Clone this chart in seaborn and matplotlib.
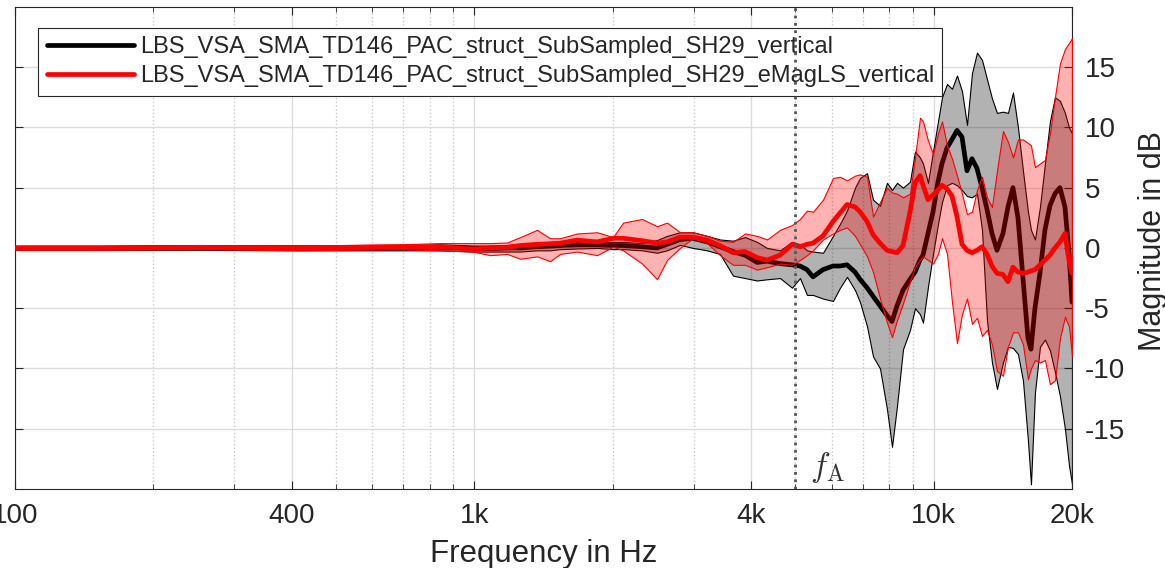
import matplotlib
matplotlib.use("Agg")
import matplotlib.pyplot as plt
import seaborn as sns
import pandas as pd
from matplotlib.ticker import FixedLocator, NullFormatter

# frequency grid (Hz)
freq = [100, 153, 253, 417, 689, 842, 993, 1082, 1178, 1258, 1369, 1461, 1536,
        1673, 1850, 2004, 2107, 2317, 2498, 2626, 2803, 2992, 3209, 3425, 3656,
        3883, 4124, 4336, 4628, 4914, 5115, 5297, 5459, 5740, 6035, 6251, 6474,
        6739, 6910, 7157, 7376, 7639, 7912, 8112, 8318, 8572, 8878, 9103, 9334,
        9475, 9716, 9963, 10216, 10423, 10687, 10958, 11236, 11521, 11813, 12113,
        12420, 12735, 13058, 13389, 13729, 14148, 14507, 14875, 15252, 15639,
        16036, 16279, 16608, 17029, 17461, 17904, 18358, 18824, 19302, 19693, 20000]

# SH29 vertical (black): mean and spread
ref_mean = [0, 0, 0.05, 0, 0, 0.05, -0.05, -0.05, 0, 0, 0.1, 0.15, 0.2,
            0.25, 0.25, 0.2, 0.2, 0.1, 0.0, 0.3, 0.7, 0.8, 0.5, 0.1, -0.3,
            -0.6, -1.2, -1.1, -1.3, -1.4, -1.5, -1.8, -2.4, -1.8, -1.5, -1.5, -1.4,
            -2.0, -2.6, -3.3, -4.0, -4.8, -5.6, -6.1, -4.8, -3.5, -2.6, -2.0, -1.0,
            -0.6, 1.2, 3.0, 5.5, 7.0, 8.3, 9.0, 9.75, 9.2, 6.4, 7.4,
            6.6, 5.0, 3.2, 1.2, -0.2, 1.2, 3.4, 5.0, 2.5, -2.5,
            -7.5, -8.4, -5.0, -2.1, 1.5, 3.5, 4.5, 5.0, 3.4, -0.4, -4.5]
ref_lo = [-0.15, -0.15, -0.15, -0.2, -0.2, -0.2, -0.3, -0.3, -0.3, -0.3, -0.2, -0.2, -0.1,
          -0.05, 0.0, -0.1, -0.1, -0.2, -0.4, -0.2, 0.25, 0.0, -0.2, -0.5, -2.3,
          -2.5, -2.7, -2.6, -2.5, -3.3, -2.5, -3.9, -3.9, -4.2, -4.4, -3.3, -2.4,
          -3.5, -4.5, -6.5, -9.0, -10.0, -13.4, -16.5, -13.1, -8.4, -6.8, -5.0, -5.5,
          -6.2, -3.2, -0.5, 2.0, 3.8, 5.2, 5.4, 5.2, 4.8, 4.3, 4.2,
          4.5, 1.5, -6.0, -9.5, -11.7, -9.5, -8.2, -8.3, -8.8, -11.0,
          -16.0, -19.6, -12.0, -8.2, -7.6, -8.5, -10.3, -12.3, -15.0, -18.0, -19.6]
ref_hi = [0.15, 0.15, 0.2, 0.2, 0.2, 0.3, 0.2, 0.2, 0.25, 0.3, 0.35, 0.4, 0.45,
          0.5, 0.5, 0.5, 0.5, 0.4, 0.65, 1.0, 1.3, 1.3, 1.0, 0.7, 0.6,
          0.9, 0.5, 0.0, -0.2, 0.5, 0.3, -0.2, -0.3, -0.4, 1.0, 2.0, 3.1,
          5.0, 5.8, 6.2, 4.0, 3.5, 5.4, 4.8, 5.4, 5.0, 5.5, 8.0, 7.5,
          7.0, 5.4, 8.0, 10.5, 12.5, 13.6, 13.2, 14.3, 13.0, 10.2, 14.5,
          16.2, 15.6, 14.0, 12.4, 11.2, 11.3, 11.2, 12.9, 10.0, 6.4,
          3.0, 1.5, 0.7, 3.4, 7.0, 10.5, 12.5, 12.2, 11.2, 10.0, 9.5]

# SH29 eMagLS vertical (red): mean and spread
emag_mean = [0, 0, 0.05, 0, 0.1, 0.1, -0.1, 0.0, 0.05, 0.2, 0.3, 0.35, 0.4,
             0.65, 0.5, 0.8, 0.8, 0.6, 0.4, 0.5, 0.9, 0.9, 0.65, 0.2, -0.4,
             -0.3, -0.8, -1.0, -0.6, 0.3, 0.1, 0.3, 0.4, 1.0, 2.2, 2.9, 3.6,
             3.4, 3.0, 2.2, 1.1, 0.4, -0.2, -0.3, -0.4, 0.2, 3.0, 5.4, 6.0,
             5.2, 4.0, 4.4, 4.8, 5.2, 4.9, 4.3, 2.6, 0.3, -0.2, -0.4,
             -0.2, 0.1, -0.5, -1.5, -2.1, -2.2, -2.8, -1.6, -2.0, -2.1,
             -2.0, -1.9, -1.8, -1.4, -1.0, -0.6, 0.0, 0.5, 1.2, -1.0, -2.1]
emag_lo = [-0.15, -0.15, -0.1, -0.2, -0.1, -0.2, -0.3, -0.6, -0.5, -0.9, -0.7, -1.1, -0.5,
           -0.3, -0.6, 0.1, -0.2, -1.3, -2.6, -1.0, 0.0, 0.8, 0.4, -0.6, -1.4,
           -1.4, -1.8, -1.6, -1.3, -1.4, -1.0, -0.6, -0.2, 0.7, 1.2, 1.5, 1.7,
           1.0, 0.3, -0.7, -2.0, -4.2, -6.2, -7.4, -6.0, -4.6, -2.8, -1.6, -1.0,
           -0.7, -1.0, -1.3, -0.5, 0.8, -0.5, -4.5, -7.9, -5.5, -4.2, -6.3,
           -5.8, -7.3, -6.8, -8.0, -10.2, -10.6, -8.2, -7.0, -7.0, -8.0,
           -10.9, -10.0, -9.3, -9.5, -9.3, -11.3, -11.0, -7.5, -5.7, -6.5, -9.0]
emag_hi = [0.15, 0.15, 0.2, 0.2, 0.3, 0.4, 0.4, 0.4, 0.45, 0.9, 1.5, 0.8, 0.8,
           1.2, 1.3, 0.9, 2.1, 2.4, 1.8, 2.1, 1.3, 1.3, 1.0, 0.6, 0.5,
           1.2, 1.0, 0.7, 1.5, 1.9, 2.4, 3.1, 3.0, 4.0, 5.8, 5.9, 5.6,
           6.0, 6.1, 5.9, 2.6, 3.8, 5.0, 4.6, 4.5, 4.2, 4.5, 7.5, 10.8,
           10.5, 8.9, 7.8, 9.5, 10.5, 8.5, 7.4, 6.0, 4.5, 2.8, 3.0,
           4.8, 5.9, 4.2, 3.4, 6.4, 9.7, 8.8, 7.5, 9.0, 9.0,
           8.7, 8.5, 6.7, 7.0, 7.3, 9.5, 12.5, 15.3, 16.5, 17.0, 17.4]

series_names = ["LBS_VSA_SMA_TD146_PAC_struct_SubSampled_SH29_vertical",
                "LBS_VSA_SMA_TD146_PAC_struct_SubSampled_SH29_eMagLS_vertical"]
f_aliasing = 5000
xtick_vals = [100, 400, 1000, 4000, 10000, 20000]
xtick_labels = ["100", "400", "1k", "4k", "10k", "20k"]
xminor_vals = [200, 300, 500, 600, 700, 800, 900, 2000, 3000, 5000, 6000,
               7000, 8000, 9000]
ytick_vals = [-15, -10, -5, 0, 5, 10, 15]

sns.set_theme(style="white")
plt.rcParams["font.family"] = ["Liberation Sans", "DejaVu Sans"]
plt.rcParams["mathtext.fontset"] = "cm"
plt.rcParams["axes.unicode_minus"] = False

fig = plt.figure(figsize=(11.65, 5.68), dpi=100)
ax = fig.add_axes([0.0129, 0.139, 0.9073, 0.849])

df_ref = pd.DataFrame({"freq": freq, "mag": ref_mean})
df_emag = pd.DataFrame({"freq": freq, "mag": emag_mean})

ax.fill_between(freq, ref_lo, ref_hi, facecolor=(0, 0, 0, 0.3),
                edgecolor="black", lw=0.8, zorder=2)
sns.lineplot(data=df_ref, x="freq", y="mag", color="black", lw=3.4,
             estimator=None, sort=False, ax=ax, label=series_names[0], zorder=3)
ax.fill_between(freq, emag_lo, emag_hi, facecolor=(1, 0, 0, 0.3),
                edgecolor="red", lw=0.8, zorder=4)
sns.lineplot(data=df_emag, x="freq", y="mag", color="red", lw=3.4,
             estimator=None, sort=False, ax=ax, label=series_names[1], zorder=5)

ax.axvline(f_aliasing, color="#555555", ls=":", lw=2, zorder=6)
ax.text(f_aliasing * 1.075, -18.2, r"$f_\mathrm{A}$", fontsize=24,
        color="#333333", ha="left", va="center", zorder=7)

ax.set_xscale("log")
ax.set_xlim(100, 20000)
ax.set_ylim(-20, 20)
ax.xaxis.set_major_locator(FixedLocator(xtick_vals))
ax.set_xticklabels(xtick_labels)
ax.xaxis.set_minor_locator(FixedLocator(xminor_vals))
ax.xaxis.set_minor_formatter(NullFormatter())
ax.set_yticks(ytick_vals)

ax.set_axisbelow(True)
ax.grid(which="major", color="#dcdcdc", lw=1, ls="-")
ax.grid(which="minor", axis="x", color="#c8c8c8", lw=1, ls=":")

ax.yaxis.tick_right()
ax.yaxis.set_label_position("right")
ax.tick_params(which="both", direction="in", top=True, bottom=True,
               left=True, right=True, labelleft=False, labelright=True,
               color="#262626", labelsize=20, labelcolor="#262626")
ax.tick_params(which="major", length=6, width=0.8)
ax.tick_params(which="minor", length=3.5, width=0.6)
ax.tick_params(axis="x", pad=10)
ax.tick_params(axis="y", pad=9)
for s in ax.spines.values():
    s.set_color("#262626")
    s.set_linewidth(0.8)
    s.set_visible(True)

ax.set_xlabel("Frequency in Hz", fontsize=22.5, color="#262626", labelpad=7)
ax.set_ylabel("Magnitude in dB", fontsize=22, color="#262626")
ax.yaxis.set_label_coords(1.062, 0.515)

leg = ax.legend(loc="upper left", bbox_to_anchor=(0.022, 0.956),
                borderaxespad=0, fontsize=17, handlelength=3.7,
                handletextpad=0.25, fancybox=False, frameon=True, framealpha=1,
                edgecolor="#262626", borderpad=0.35, labelspacing=0.3)
leg.get_frame().set_linewidth(0.8)
for h in leg.get_lines():
    h.set_linewidth(3.4)

fig.savefig("out.png", dpi=100)
